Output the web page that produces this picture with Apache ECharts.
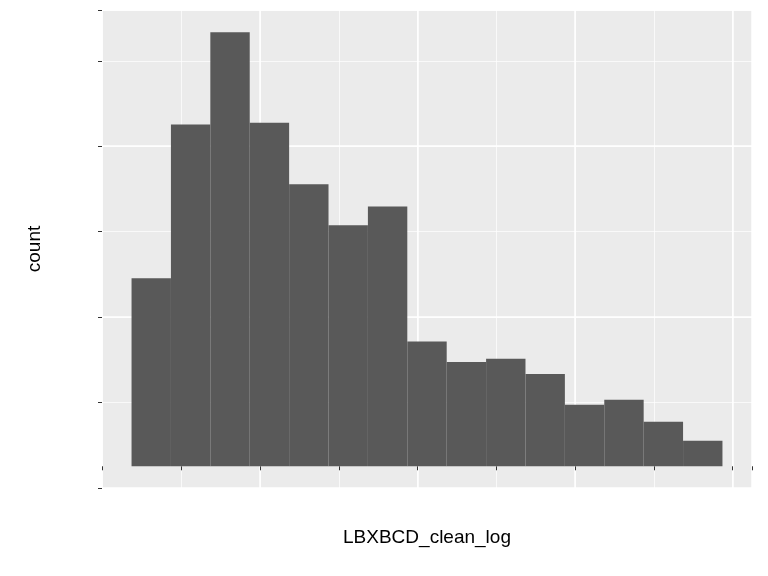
<!DOCTYPE html>
<html>
<head>
<meta charset="utf-8">
<script src="https://cdn.jsdelivr.net/npm/echarts@6/dist/echarts.min.js"></script>
<style>html,body{margin:0;padding:0;background:#fff}#main{width:768px;height:576px}</style>
</head>
<body>
<div id="main"></div>
<script>
const binStart = [0.05,0.10,0.15,0.20,0.25,0.30,0.35,0.40,0.45,0.50,0.55,0.60,0.65,0.70,0.75];
const binWidth = 0.05;
const counts = [110,200,254,201,165,141,152,73,61,63,54,36,39,26,15];
const xTicks = [0.2,0.4,0.6,0.8];
const yTicks = [0,100,200];

const font = 'Liberation Sans, Arial, sans-serif';
const xMin = 0.0125, xMax = 0.8375, yMin = -12.7, yMax = 267;

let data = binStart.map((s, i) => [s, s + binWidth, counts[i]]);

let chart = echarts.init(document.getElementById('main'));
let option = {
  animation: false,
  grid: {left: 102, right: 16, top: 10, bottom: 88, show: true, backgroundColor: '#EBEBEB', borderWidth: 0},
  xAxis: [{
    type: 'value', min: xMin, max: xMax, interval: 0.1,
    name: 'LBXBCD_clean_log', nameLocation: 'middle', nameGap: 40,
    nameTextStyle: {fontFamily: font, fontSize: 19, color: '#000'},
    axisLine: {show: false},
    axisTick: {length: 4, lineStyle: {color: '#333'},
      interval: (i, v) => xTicks.some(t => Math.abs(t - v) < 1e-6)},
    axisLabel: {fontFamily: font, fontSize: 15, color: '#4D4D4D', margin: 8,
      formatter: v => xTicks.some(t => Math.abs(t - v) < 1e-6) ? v.toFixed(1) : ''},
    splitLine: {lineStyle: {color: '#fff', width: 0.7}}
  }, {
    type: 'value', min: xMin, max: xMax, interval: 0.2, show: true, position: 'bottom',
    axisLine: {show: false}, axisTick: {show: false}, axisLabel: {show: false},
    splitLine: {lineStyle: {color: '#fff', width: 1.5}}
  }],
  yAxis: [{
    type: 'value', min: yMin, max: yMax, interval: 50,
    name: 'count', nameLocation: 'middle', nameGap: 58,
    nameTextStyle: {fontFamily: font, fontSize: 19, color: '#000'},
    axisLine: {show: false},
    axisTick: {length: 4, lineStyle: {color: '#333'},
      interval: (i, v) => yTicks.includes(Math.round(v))},
    axisLabel: {fontFamily: font, fontSize: 15, color: '#4D4D4D', margin: 8,
      formatter: v => yTicks.some(t => Math.abs(t - v) < 1e-6) ? String(Math.round(v)) : ''},
    splitLine: {lineStyle: {color: '#fff', width: 0.7}}
  }, {
    type: 'value', min: yMin, max: yMax, interval: 100, position: 'left',
    axisLine: {show: false}, axisTick: {show: false}, axisLabel: {show: false},
    splitLine: {lineStyle: {color: '#fff', width: 1.5}}
  }],
  series: [{
    type: 'custom',
    xAxisIndex: 0, yAxisIndex: 0,
    data: data,
    encode: {x: [0, 1], y: 2},
    renderItem: function (params, api) {
      let p0 = api.coord([api.value(0), api.value(2)]);
      let p1 = api.coord([api.value(1), 0]);
      return {
        type: 'rect',
        shape: {x: p0[0], y: p0[1], width: p1[0] - p0[0], height: p1[1] - p0[1]},
        style: {fill: '#595959'}
      };
    }
  }]
};
chart.setOption(option);
</script>
</body>
</html>
